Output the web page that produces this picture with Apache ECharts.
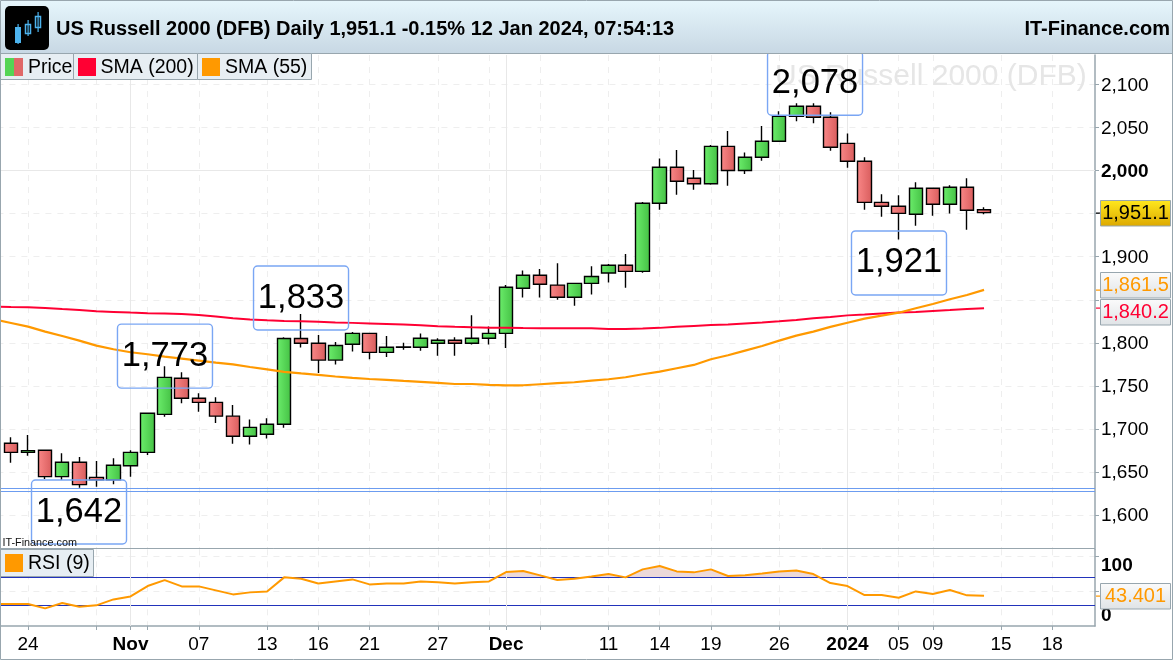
<!DOCTYPE html>
<html>
<head>
<meta charset="utf-8">
<style>html,body{margin:0;padding:0;background:#fff}#c{width:1173px;height:660px}</style>
<script src="https://cdn.jsdelivr.net/npm/echarts@6/dist/echarts.min.js"></script>
</head>
<body>
<div id="c"></div>
<script>
const categories = ['Oct 20','Oct 23','24','Oct 25','Oct 26','Oct 27','Oct 30','Oct 31','Nov','Nov 2','Nov 3','Nov 6','07','Nov 8','Nov 9','Nov 10','13','Nov 14','Nov 15','16','Nov 17','Nov 20','21','Nov 22','Nov 23','Nov 24','27','Nov 28','Nov 29','Nov 30','Dec','Dec 4','Dec 5','Dec 6','Dec 7','Dec 8','11','Dec 12','Dec 13','14','Dec 15','Dec 18','19','Dec 20','Dec 21','Dec 22','26','Dec 27','Dec 28','Dec 29','2024','Jan 3','Jan 4','05','Jan 8','09','Jan 10','Jan 11','Jan 12','15','Jan 16','Jan 17','18','Jan 19','Jan 22'];
const shownLabels = ['24','Nov','07','13','16','21','27','Dec','11','14','19','26','2024','05','09','15','18'];
const boldLabels = ['Nov','Dec','2024'];
const extraTicks = ['Oct 30','Nov 2','Nov 30','Dec 5'];

const opens  = ['-',1683.5,1673,1675.4,1644.8,1661.5,1644,1641,1657.5,1673,1717,1759,1735.7,1731,1715,1691.6,1694,1705.5,1805,1799.5,1780,1798.4,1811,1789,1795,1795,1799.5,1803,1799.5,1805.3,1811,1863.3,1878.4,1867,1853,1869,1881,1890,1883,1962,2003.7,1991,1984.7,2028,2000,2015.3,2033.9,2062.9,2074.5,2061.7,2031.5,2010.7,1963,1958.5,1949.2,1979.4,1960.8,1980.5,1954.5];
const closes = ['-',1673,1675,1644.8,1661.5,1635.5,1641,1658,1673,1718.3,1760,1735.7,1731,1715,1691.6,1702,1705.5,1805,1799.5,1780,1797,1811,1789,1795,1795.2,1805.3,1803,1799.5,1805.3,1811,1864.5,1878.4,1868,1853,1869,1877,1890,1883,1962,2003.7,1987.5,1984.7,2028,2000,2015.3,2033.9,2062.9,2074.5,2061.7,2026.9,2010.7,1963,1958.5,1950.3,1979.4,1960.8,1980.5,1953.8,1951.1];
const lows   = ['-',1661,1669,1642,1641,1632,1633,1636,1644.8,1670,1714.4,1730,1720,1707,1683,1682,1689,1701.6,1794.5,1765,1775,1790,1781,1783.6,1792,1791,1785,1785,1798,1798,1794,1852.5,1852.5,1850,1843,1856,1870,1864,1881.5,1954.5,1972,1977.7,1983.5,1982.4,1996,2011.4,2033.5,2057,2054.8,2023,2003.2,1954.5,1946.4,1920,1936,1947.6,1950,1931.3,1949.2];
const highs  = ['-',1690.5,1693,1675.5,1672,1667.6,1663,1666,1675.4,1718.5,1773,1766,1741.5,1737,1728,1711,1712.5,1806.5,1833.5,1809,1801,1812.6,1811,1808,1800,1811,1805.3,1806.5,1832,1819,1867,1884,1885.7,1892.3,1869,1889,1891.5,1903,1963.5,2014,2023.8,2000.6,2029.6,2045.8,2021,2051.6,2068.7,2078,2078,2067.5,2043,2015.3,1972.4,1971.2,1986.3,1979.4,1982.8,1991,1957.3];

const sma200 = [1842.0,1841.6,1841.3,1840.5,1839.3,1838.2,1836.7,1835.9,1835.1,1834.5,1834.2,1833.6,1832.4,1830.7,1828.6,1827.2,1826.3,1825.5,1825.1,1824.5,1823.7,1823.2,1822.6,1822.0,1821.4,1820.5,1819.4,1818.6,1818.0,1817.6,1817.4,1817.2,1817.1,1817.1,1817.1,1816.9,1816.0,1816.0,1816.6,1817.4,1818.6,1819.7,1820.6,1821.4,1822.6,1823.7,1825.1,1826.6,1828.6,1830.1,1831.9,1833.0,1834.2,1835.3,1835.9,1837.1,1838.2,1839.4,1840.2];
const sma55  = [1827.3,1823.1,1818.8,1813,1808,1802.6,1796.8,1792.6,1789.1,1786.8,1784,1781.7,1779.4,1777,1775,1772,1769.2,1766.3,1764.5,1762.8,1761,1759.3,1758.1,1757,1755.8,1754.7,1753.5,1752.3,1752.3,1751.2,1750.8,1750.8,1752,1753.2,1754.3,1756.2,1757.8,1760.1,1763.6,1766.6,1770.6,1774.4,1781,1785.6,1791,1796.4,1802.6,1808.4,1813,1818.5,1823.4,1828.1,1831.6,1835,1840.2,1845.1,1850.6,1855.6,1861.5];
const rsi    = [31.6,31.6,31.6,25.4,33.1,27.8,29.7,38.3,42.6,57.5,66.1,57,57,51.3,45.5,48.4,49.8,70,68.1,61.3,64.2,67.1,59.9,61.3,61.3,64.2,62.8,61.3,62.8,64.2,77.7,79.1,72.9,66.1,68.1,71.4,74.8,70,81.5,86.3,78.6,77.2,81.5,71.9,72.9,75.7,78.6,80,74.8,61.8,57.5,44.6,44.6,40.7,49.8,46,51.8,44.1,43.401];

const priceTicks = [1600,1650,1700,1750,1800,1850,1900,1950,2000,2050,2100];
const priceLabels = [1600,1650,1700,1750,1800,1900,2000,2050,2100];
const rsiTicks = [50,100];
const rsiLabels = [0,100];
const rsiBands = [70,30];
const supportLines = [1631.2,1628];
const solidMonthLines = ['Nov','Dec','2024'];
const callouts = [
  {text:'1,642', i:5,  v:1642,   dx:-.3, dy:33},
  {text:'1,773', i:10, v:1773,   dx:.3,  dy:-10},
  {text:'1,833', i:18, v:1833.5, dx:-.2, dy:-16},
  {text:'2,078', i:48, v:2078,   dx:1.7, dy:-20},
  {text:'1,921', i:53, v:1920,   dx:.3,  dy:23.5}
];
const FONT = '"Liberation Sans", Arial, sans-serif';
const GRAY = '#98a6ae';
const hGrad = (a,b)=>new echarts.graphic.LinearGradient(0,0,1,0,[{offset:0,color:a},{offset:1,color:b}]);
const vGrad = (a,b)=>new echarts.graphic.LinearGradient(0,0,0,1,[{offset:0,color:a},{offset:1,color:b}]);
const fmt = v => v.toLocaleString('en-US');
const ohlc = opens.map((o,i)=>[o,closes[i],lows[i],highs[i]]);

const chart = echarts.init(document.getElementById('c'),null,{renderer:'canvas'});
const tickFn = (i,name)=>shownLabels.includes(name)||extraTicks.includes(name);
const labelFn = (i,name)=>shownLabels.includes(name);
const vSolid = solidMonthLines.map(n=>({xAxis:n}));

function tag(y,text,color,fill){
  return {type:'group',z:200,children:[
    {type:'rect',shape:{x:1100.5,y:y-12.5,width:70,height:25.5},style:{fill:fill,stroke:GRAY,lineWidth:1},z:200},
    {type:'text',style:{x:1135.5,y:y+.5,text:text,fill:color,font:'20px '+FONT,align:'center',verticalAlign:'middle'},z:201}
  ]};
}
const tagTick = (y,c)=>({type:'rect',z:150,shape:{x:1096,y:y-.5,width:4,height:1.2},style:{fill:c}});
const grayFill = vGrad('#fbfbfb','#dfe3e6');
const legendItems = [[0,73],[73,124],[197,114]];
const graphic = [
  {type:'text',z:1,style:{x:775,y:77,text:'US Russell 2000 (DFB)',fill:'#e6e6e6',font:'30px '+FONT,verticalAlign:'middle'}},
  {type:'text',z:150,style:{x:2.5,y:543,text:'IT-Finance.com',fill:'#111',font:'10.8px '+FONT,verticalAlign:'middle'}},
  {type:'rect',z:100,shape:{x:0,y:0,width:1173,height:53},style:{fill:vGrad('#e6f6fc','#c8d8e4')}},
  {type:'rect',z:100,shape:{x:0,y:53,width:1173,height:1},style:{fill:GRAY}},
  {type:'rect',z:101,shape:{x:5,y:6,width:44,height:44,r:5},style:{fill:'#000'}},
  {type:'rect',z:102,shape:{x:15,y:27,width:6,height:16},style:{fill:'#4db3ee'}},
  {type:'rect',z:102,shape:{x:17.5,y:24,width:1.2,height:20},style:{fill:'#4db3ee'}},
  {type:'rect',z:102,shape:{x:25.5,y:24.5,width:5,height:9},style:{fill:'#000',stroke:'#4db3ee',lineWidth:1.5}},
  {type:'rect',z:102,shape:{x:27.5,y:20,width:1.2,height:16},style:{fill:'#4db3ee'}},
  {type:'rect',z:102,shape:{x:35.5,y:16.5,width:5,height:11},style:{fill:'#000',stroke:'#4db3ee',lineWidth:1.5}},
  {type:'rect',z:102,shape:{x:37.5,y:12,width:1.2,height:20},style:{fill:'#4db3ee'}},
  {type:'text',z:102,style:{x:56,y:29,text:'US Russell 2000 (DFB) Daily 1,951.1 -0.15% 12 Jan 2024, 07:54:13',fill:'#000',font:'bold 20px '+FONT,verticalAlign:'middle'}},
  {type:'text',z:102,style:{x:1170,y:29,text:'IT-Finance.com',fill:'#000',font:'bold 20px '+FONT,align:'right',verticalAlign:'middle'}},
  ...legendItems.map(([x,w])=>({type:'rect',z:100,shape:{x:x+.5,y:53.5,width:w,height:26},style:{fill:'#e7eef3',stroke:GRAY,lineWidth:1}})),
  {type:'rect',z:101,shape:{x:5,y:58,width:9,height:18},style:{fill:'#55d455'}},
  {type:'rect',z:101,shape:{x:14,y:58,width:9,height:18},style:{fill:'#e06868'}},
  {type:'text',z:101,style:{x:28,y:68,text:'Price',fill:'#000',font:'19.5px '+FONT,verticalAlign:'middle'}},
  {type:'rect',z:101,shape:{x:78,y:58,width:18,height:18},style:{fill:'#ff0033'}},
  {type:'text',z:101,style:{x:100.5,y:68,text:'SMA (200)',fill:'#000',font:'19.5px '+FONT,verticalAlign:'middle'}},
  {type:'rect',z:101,shape:{x:202,y:58,width:18,height:18},style:{fill:'#ff9900'}},
  {type:'text',z:101,style:{x:225,y:68,text:'SMA (55)',fill:'#000',font:'19.5px '+FONT,verticalAlign:'middle'}},
  {type:'rect',z:100,shape:{x:.5,y:549.5,width:93,height:27},style:{fill:'#e7eef3',stroke:GRAY,lineWidth:1}},
  {type:'rect',z:101,shape:{x:5,y:554,width:18,height:18},style:{fill:'#ff9900'}},
  {type:'text',z:101,style:{x:28,y:564,text:'RSI (9)',fill:'#000',font:'19.5px '+FONT,verticalAlign:'middle'}},
  tagTick(213,'#000'),tagTick(290,'#ff9900'),tagTick(308,'#ff0033'),tagTick(596,'#ff9900'),
  tag(213,'1,951.1','#000',vGrad('#ffe81e','#dca800')),
  tag(285,'1,861.5','#ff9900',grayFill),
  tag(312,'1,840.2','#ff0033',grayFill),
  tag(596,'43.401','#ff9900',grayFill),
  {type:'rect',z:300,shape:{x:.5,y:.5,width:1172,height:659},style:{fill:'none',stroke:GRAY,lineWidth:1}}
];

chart.setOption({
  animation:false,
  backgroundColor:'#fff',
  textStyle:{fontFamily:FONT},
  graphic:graphic,
  grid:[
    {outerBoundsMode:'none',left:-14.57,right:78,top:55,height:493},
    {outerBoundsMode:'none',left:-14.57,right:78,top:549.3,height:76.7},
    {outerBoundsMode:'none',left:-14.57,right:78,top:549.3,height:28.1}
  ],
  xAxis:[
    {type:'category',gridIndex:0,data:categories,boundaryGap:true,
     axisLine:{show:true,onZero:false,lineStyle:{color:GRAY,width:1}},
     axisTick:{show:false},axisLabel:{show:false},
     splitLine:{show:true,alignWithLabel:true,interval:tickFn,lineStyle:{color:'#eeeeee',type:[6,6],width:1}}},
    {type:'category',gridIndex:1,data:categories,boundaryGap:true,
     axisLine:{show:true,onZero:false,lineStyle:{color:GRAY,width:1.5}},
     axisTick:{show:true,alignWithLabel:true,interval:tickFn,length:4,lineStyle:{color:GRAY}},
     axisLabel:{show:true,interval:labelFn,hideOverlap:false,margin:9,fontSize:19,color:'#000',fontFamily:FONT,
       formatter:v=>boldLabels.includes(v)?'{b|'+v+'}':v,
       rich:{b:{fontSize:19,fontWeight:'bold',color:'#000',fontFamily:FONT}}},
     splitLine:{show:true,alignWithLabel:true,interval:tickFn,lineStyle:{color:'#eeeeee',type:[6,6],width:1}}},
    {type:'category',gridIndex:2,data:categories,boundaryGap:true,show:false}
  ],
  yAxis:[
    {type:'value',gridIndex:0,position:'right',min:1562,max:2134,scale:true,
     axisLine:{show:true,lineStyle:{color:GRAY,width:1.5}},
     axisTick:{show:true,length:4,customValues:priceTicks,lineStyle:{color:GRAY}},
     axisLabel:{show:true,margin:6,fontSize:19,color:'#000',fontFamily:FONT,customValues:priceLabels,
       formatter:v=>v===2000?'{b|2,000}':'{n|'+fmt(v)+'}',
       rich:{b:{fontSize:19,fontWeight:'bold',color:'#000',fontFamily:FONT,padding:[2,0,0,0]},
             n:{fontSize:19,color:'#000',fontFamily:FONT,padding:[2,0,0,0]}}},
     splitLine:{show:true,lineStyle:{color:'#eeeeee',type:[6,6],width:1}}},
    {type:'value',gridIndex:1,position:'right',min:0,max:110.4,
     axisLine:{show:true,lineStyle:{color:GRAY,width:1.5}},
     axisTick:{show:true,length:4,customValues:rsiTicks,lineStyle:{color:GRAY}},
     axisLabel:{show:true,margin:6,fontSize:19,color:'#000',fontFamily:FONT,customValues:rsiLabels,
       formatter:v=>v===100?'{t|100}':'{z|0}',
       rich:{t:{fontSize:19,fontWeight:'bold',color:'#000',padding:[19,0,0,0]},
             z:{fontSize:19,fontWeight:'bold',color:'#000',padding:[0,0,20,0]}}},
     splitLine:{show:true,lineStyle:{color:'#eeeeee',type:[6,6],width:1}}},
    {type:'value',gridIndex:2,position:'right',min:70,max:110.4,show:false}
  ],
  series:[
    {type:'candlestick',name:'Price',xAxisIndex:0,yAxisIndex:0,data:ohlc,barWidth:14,z:3,
     itemStyle:{color:hGrad('#6cee6c','#44c044'),color0:hGrad('#fa8888','#d85c5c'),borderColor:'#000',borderColor0:'#000',borderWidth:1.4},
     markLine:{silent:true,symbol:'none',z:1,label:{show:false},animation:false,
       data:[{yAxis:2000,lineStyle:{color:'#e8e8e8',type:'solid',width:1}},
             ...vSolid.map(d=>({...d,lineStyle:{color:'#e8e8e8',type:'solid',width:1}})),
             ...supportLines.map(v=>({yAxis:v,lineStyle:{color:'#6c9cf0',type:'solid',width:1}}))]},
     markPoint:{silent:true,symbol:'circle',symbolSize:0,z:10,animation:false,
       data:callouts.map(c=>({coord:[c.i,c.v],value:c.text,
         label:{show:true,position:'inside',offset:[c.dx,c.dy],formatter:c.text,width:95,height:56,lineHeight:56,padding:[0,0,8,0],align:'center',verticalAlign:'middle',
           fontSize:34.5,fontFamily:FONT,color:'#000',borderColor:'#7aa6f4',borderWidth:0.7,borderRadius:4,backgroundColor:'transparent'}}))}},
    {type:'line',name:'SMA (200)',xAxisIndex:0,yAxisIndex:0,data:sma200,symbol:'none',z:4,lineStyle:{color:'#ff0033',width:2}},
    {type:'line',name:'SMA (55)',xAxisIndex:0,yAxisIndex:0,data:sma55,symbol:'none',z:4,lineStyle:{color:'#ff9900',width:2.2}},
    {type:'line',name:'RSI area',xAxisIndex:2,yAxisIndex:2,data:rsi,symbol:'none',z:2,clip:true,lineStyle:{width:0,opacity:0},
     areaStyle:{color:'#ecd9d9',opacity:1,origin:'start'}},
    {type:'line',name:'RSI (9)',xAxisIndex:1,yAxisIndex:1,data:rsi,symbol:'none',z:4,lineStyle:{color:'#ff9900',width:2},
     markLine:{silent:true,symbol:'none',z:3,label:{show:false},animation:false,
       data:[...rsiBands.map(v=>({yAxis:v,lineStyle:{color:'#2233bb',type:'solid',width:1}})),
             ...vSolid.map(d=>({...d,lineStyle:{color:'#e8e8e8',type:'solid',width:1}}))]}}
  ]
});
</script>
</body>
</html>
